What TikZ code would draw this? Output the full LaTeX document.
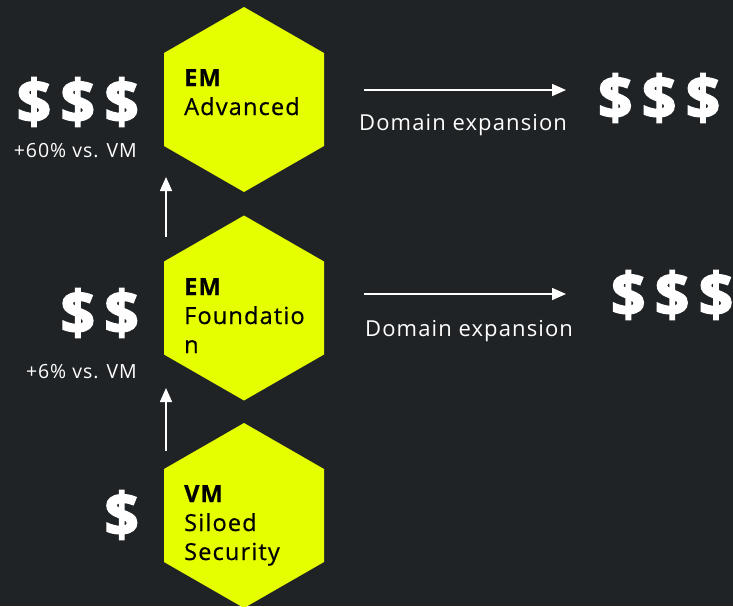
\documentclass[tikz,border=0pt]{standalone}
\usepackage{fontspec}
\setmainfont{Open Sans}[LetterSpace=5]
\newfontfamily\hexfont{Open Sans}[LetterSpace=5, FakeBold=0.6]
\newfontfamily\dollarfont{Open Sans}[BoldFeatures={FakeBold=3}, LetterSpace=16]
\usetikzlibrary{arrows.meta}
\definecolor{bgdark}{HTML}{1F2326}
\definecolor{hexyellow}{HTML}{E6FF00}
\tikzset{
  hexfill/.style={fill=hexyellow},
  hextext/.style={anchor=base west, inner sep=0pt, text=black, font=\hexfont\fontsize{23.5}{29}\selectfont, align=left},
  money/.style={anchor=east, inner sep=0pt, text=white, font=\dollarfont\bfseries\fontsize{60}{60}\selectfont},
  note/.style={anchor=base east, inner sep=0pt, text=white, font=\fontsize{19.5}{21}\selectfont},
  domainlabel/.style={anchor=base west, inner sep=0pt, text=white, font=\fontsize{22}{24}\selectfont},
  flow/.style={white, line width=1.6pt, -{Triangle[length=14pt, width=12pt]}}
}
\begin{document}
\begin{tikzpicture}[x=1pt, y=-1pt]
  \fill[bgdark] (0,0) rectangle (733,606);
  \useasboundingbox (0,0) rectangle (733,606);
  \clip (0,0) rectangle (733,606);

  % three hexagons, pointy top, stacked
  \foreach \cy in {99.5, 308, 515.5} {
    \fill[hexfill] (244,\cy-92.5) -- (324,\cy-46.5) -- (324,\cy+46.5)
      -- (244,\cy+92.5) -- (164,\cy+46.5) -- (164,\cy-46.5) -- cycle;
  }

  % tier labels (anchored on the baseline of their last line)
  \node[hextext] (adv) at (184,115) {\textbf{EM}\\Advanced};
  \node[hextext] (fnd) at (184,353) {\textbf{EM}\\Foundatio\\n};
  \node[hextext] (vm)  at (184,560) {\textbf{VM}\\Siloed\\Security};

  % cost markers on the left
  \node[money] (c3) at (139,102) {\$\$\$};
  \node[money] (c2) at (139,313) {\$\$};
  \node[money] (c1) at (139,515) {\$};
  \node[note] (p60) at (137,157) {+60\% vs. VM};
  \node[note] (p6)  at (137,378) {+6\% vs. VM};

  % upward steps
  \coordinate (up1s) at (166,237);
  \coordinate (up1e) at (166,177);
  \coordinate (up2s) at (166,451);
  \coordinate (up2e) at (166,388);
  \draw[flow] (up1s) -- (up1e);
  \draw[flow] (up2s) -- (up2e);

  % domain expansion to the right
  \coordinate (de1s) at (364,90);
  \coordinate (de1e) at (566,90);
  \coordinate (de2s) at (364,294);
  \coordinate (de2e) at (566,294);
  \draw[flow] (de1s) -- (de1e);
  \draw[flow] (de2s) -- (de2e);
  \node[domainlabel] (dx1) at (359,130) {Domain expansion};
  \node[domainlabel] (dx2) at (365,336) {Domain expansion};
  \node[money, anchor=west] (r1) at (598,98) {\$\$\$};
  \node[money, anchor=west] (r2) at (611,295) {\$\$\$};
\end{tikzpicture}
\end{document}
